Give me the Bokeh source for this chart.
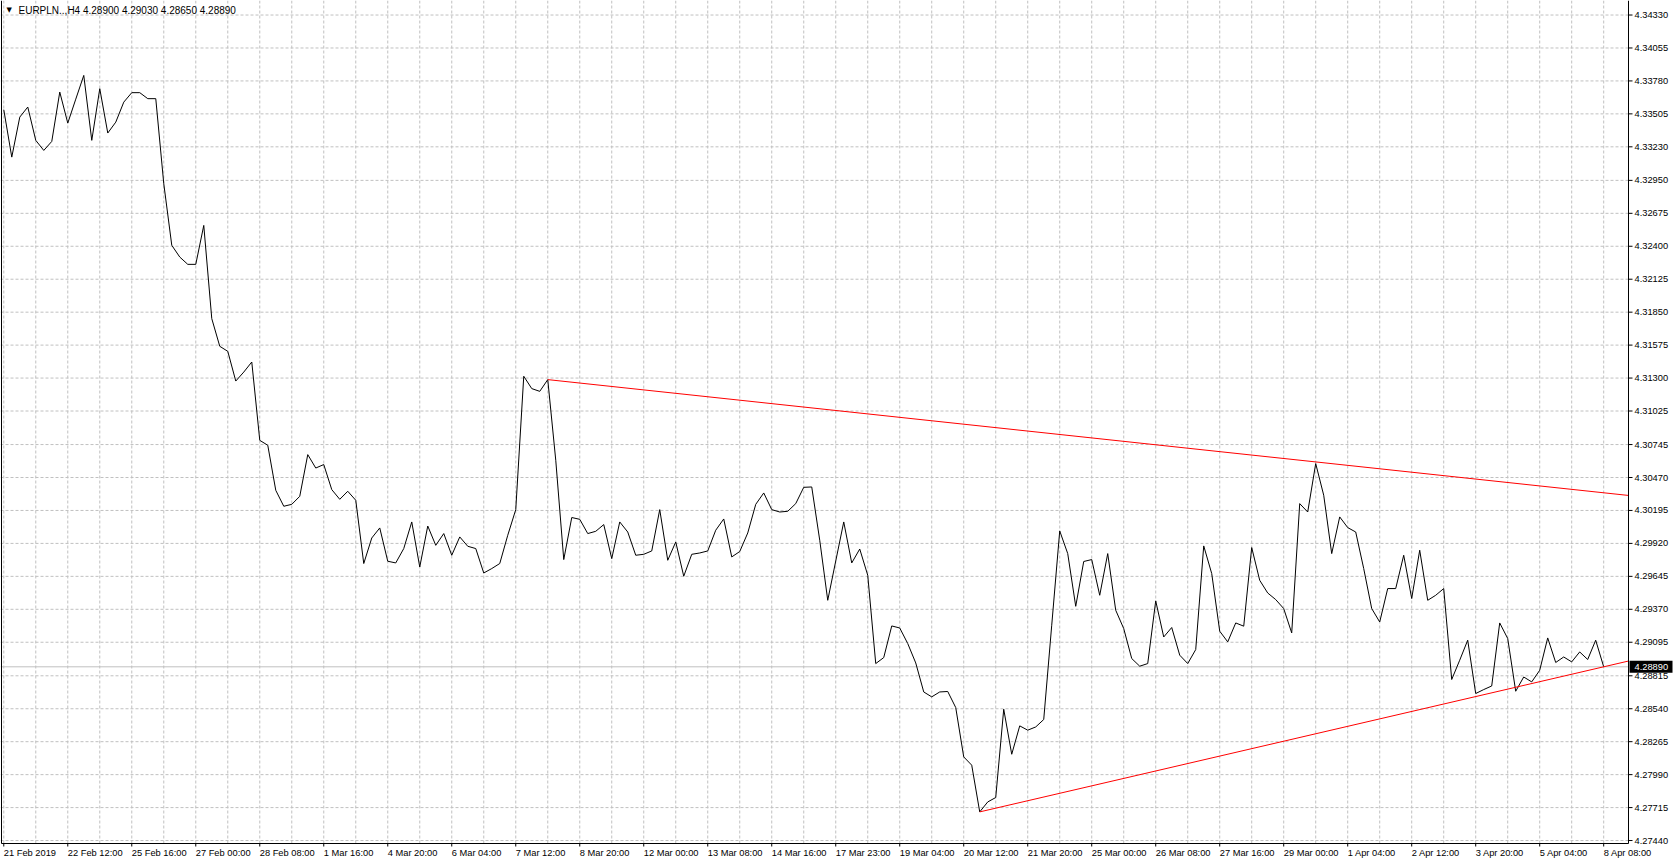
from bokeh.plotting import figure
from bokeh.models import Range1d
from bokeh.core.properties import value
from bokeh.embed import file_html
from bokeh.resources import INLINE

# ---------------- data ----------------
chart_title = "EURPLN..,H4  4.28900 4.29030 4.28650 4.28890"

close = [
    4.33540, 4.33144, 4.33478, 4.33562, 4.33284, 4.33200, 4.33275, 4.33687, 4.33428, 4.33628,
    4.33826, 4.33284, 4.33715, 4.33345, 4.33436, 4.33603, 4.33682, 4.33682, 4.33632, 4.33632,
    4.32922, 4.32408, 4.32310, 4.32249, 4.32249, 4.32574, 4.31796, 4.31565, 4.31523, 4.31275,
    4.31350, 4.31434, 4.30780, 4.30739, 4.30363, 4.30230, 4.30246, 4.30313, 4.30661, 4.30549,
    4.30578, 4.30369, 4.30288, 4.30355, 4.30280, 4.29752, 4.29965, 4.30049, 4.29771, 4.29757,
    4.29877, 4.30099, 4.29723, 4.30065, 4.29904, 4.30002, 4.29821, 4.29974, 4.29896, 4.29877,
    4.29673, 4.29710, 4.29752, 4.29988, 4.30202, 4.31315, 4.31212, 4.31189, 4.31287, 4.30614,
    4.29785, 4.30136, 4.30121, 4.30002, 4.30021, 4.30077, 4.29793, 4.30099, 4.30015, 4.29821,
    4.29829, 4.29857, 4.30202, 4.29779, 4.29932, 4.29646, 4.29829, 4.29840, 4.29857, 4.30030,
    4.30124, 4.29807, 4.29852, 4.30007, 4.30246, 4.30341, 4.30202, 4.30182, 4.30188, 4.30252,
    4.30388, 4.30391, 4.29946, 4.29445, 4.29773, 4.30099, 4.29757, 4.29873, 4.29654, 4.28917,
    4.28967, 4.29231, 4.29214, 4.29084, 4.28922, 4.28680, 4.28639, 4.28680, 4.28684, 4.28550,
    4.28138, 4.28069, 4.27679, 4.27762, 4.27799, 4.28536, 4.28160, 4.28397, 4.28361, 4.28388,
    4.28450, 4.29237, 4.30024, 4.29835, 4.29395, 4.29769, 4.29785, 4.29487, 4.29835, 4.29362,
    4.29209, 4.28959, 4.28895, 4.28917, 4.29440, 4.29139, 4.29218, 4.28987, 4.28917, 4.29034,
    4.29899, 4.29668, 4.29187, 4.29098, 4.29256, 4.29229, 4.29885, 4.29612, 4.29506, 4.29451,
    4.29376, 4.29173, 4.30252, 4.30182, 4.30586, 4.30322, 4.29835, 4.30141, 4.30052, 4.30015,
    4.29710, 4.29376, 4.29264, 4.29543, 4.29543, 4.29821, 4.29460, 4.29863, 4.29445, 4.29487,
    4.29543, 4.28784, 4.28945, 4.29112, 4.28667, 4.28700, 4.28730, 4.29256, 4.29126, 4.28686,
    4.28805, 4.28764, 4.28861, 4.29131, 4.28926, 4.28972, 4.28931, 4.29014, 4.28951, 4.29112,
    4.28890,
]

x_tick_labels = [
    "21 Feb 2019", "22 Feb 12:00", "25 Feb 16:00", "27 Feb 00:00", "28 Feb 08:00",
    "1 Mar 16:00", "4 Mar 20:00", "6 Mar 04:00", "7 Mar 12:00", "8 Mar 20:00",
    "12 Mar 00:00", "13 Mar 08:00", "14 Mar 16:00", "17 Mar 23:00", "19 Mar 04:00",
    "20 Mar 12:00", "21 Mar 20:00", "25 Mar 00:00", "26 Mar 08:00", "27 Mar 16:00",
    "29 Mar 00:00", "1 Apr 04:00", "2 Apr 12:00", "3 Apr 20:00", "5 Apr 04:00",
    "8 Apr 08:00",
]
bars_per_label = 8

y_tick_labels = [
    "4.34330", "4.34055", "4.33780", "4.33505", "4.33230", "4.32950", "4.32675",
    "4.32400", "4.32125", "4.31850", "4.31575", "4.31300", "4.31025", "4.30745",
    "4.30470", "4.30195", "4.29920", "4.29645", "4.29370", "4.29095", "4.28815",
    "4.28540", "4.28265", "4.27990", "4.27715", "4.27440",
]

# trend lines (anchor bar index, anchor price)
upper_trend_bars = [68, 164]
upper_trend_prices = [4.31287, 4.30600]
lower_trend_bars = [122, 200]
lower_trend_prices = [4.27679, 4.28890]

last_price = 4.28890
last_price_text = "4.28890"

# ---------------- layout constants ----------------
FONT = value("Liberation Sans")
FSIZE = "9.3px"
W, H = 1674, 863          # canvas
PW, PH = 1628, 843        # chart area (left/top aligned)
AXIS_W, AXIS_H = W - PW, H - PH
GRID = "#C0C0C0"

bars = list(range(len(close)))
y_ticks = [float(s) for s in y_tick_labels]
y_step = (y_ticks[0] - y_ticks[-1]) / (len(y_ticks) - 1)
y_lo = y_ticks[-1] - 0.09 * y_step
y_hi = y_ticks[0] + 0.44 * y_step
x_lo = -0.41
x_hi = len(close) - 1 + 3.1

bpp = (x_hi - x_lo) / PW      # bars per pixel
ppp = (y_hi - y_lo) / PH      # price per pixel
x_end = x_hi + AXIS_W * bpp
y_start = y_lo - AXIS_H * ppp

p = figure(
    width=W, height=H, title=None,
    output_backend="svg", toolbar_location=None,
    x_axis_type=None, y_axis_type=None,
    x_range=Range1d(x_lo, x_end), y_range=Range1d(y_start, y_hi),
    min_border=0,
)
p.background_fill_color = "white"
p.border_fill_color = "white"
p.outline_line_color = None

# ---------------- grid ----------------
x_label_bars = [i * bars_per_label for i in range(len(x_tick_labels))]
x_grid_bars = [i * bars_per_label // 2 for i in range(2 * len(x_tick_labels) - 1)]
p.segment(x0=[x_lo] * len(y_ticks), x1=[x_hi] * len(y_ticks), y0=y_ticks, y1=y_ticks,
          line_color=GRID, line_width=1, line_dash="3 2")
p.segment(x0=x_grid_bars, x1=x_grid_bars, y0=[y_lo] * len(x_grid_bars),
          y1=[y_hi] * len(x_grid_bars), line_color=GRID, line_width=1, line_dash="3 2")

# current price line
p.segment(x0=[x_lo], x1=[x_hi], y0=[last_price], y1=[last_price],
          line_color="#C0C0C0", line_width=1)

# ---------------- price line ----------------
p.line(bars, close, line_color="black", line_width=1)

# trend rays extended to the price scale
def ray(bx, py):
    slope = (py[1] - py[0]) / (bx[1] - bx[0])
    return [bx[0], x_hi], [py[0], py[0] + slope * (x_hi - bx[0])]

ux, uy = ray(upper_trend_bars, upper_trend_prices)
lx, ly = ray(lower_trend_bars, lower_trend_prices)
p.line(ux, uy, line_color="#FF0000", line_width=1)
p.line(lx, ly, line_color="#FF0000", line_width=1)

# ---------------- axes ----------------
border_x = x_lo + 1.0 * bpp
p.segment(x0=[x_hi, border_x, border_x], x1=[x_hi, x_hi, border_x],
          y0=[y_lo, y_lo, y_lo], y1=[y_hi, y_lo, y_hi],
          line_color="black", line_width=1)
# price-scale ticks and labels
p.segment(x0=[x_hi] * len(y_ticks), x1=[x_hi + 4 * bpp] * len(y_ticks),
          y0=y_ticks, y1=y_ticks, line_color="black", line_width=1)
p.text(x=[x_hi] * len(y_ticks), y=y_ticks, text=y_tick_labels, x_offset=6,
       text_align="left", text_baseline="middle", text_font=FONT,
       text_font_size=FSIZE, text_color="black")
# time-scale ticks and labels
p.segment(x0=x_label_bars, x1=x_label_bars, y0=[y_lo] * len(x_label_bars),
          y1=[y_lo - 3 * ppp] * len(x_label_bars), line_color="black", line_width=1)
p.text(x=x_label_bars, y=[y_lo] * len(x_label_bars), text=x_tick_labels,
       x_offset=0, y_offset=4, text_align="left", text_baseline="top",
       text_font=FONT, text_font_size=FSIZE, text_color="black")

# last price marker on the price scale
p.quad(left=[x_hi + 1 * bpp], right=[x_end - 2 * bpp],
       top=[last_price + 6 * ppp], bottom=[last_price - 6 * ppp],
       fill_color="black", line_color=None)
p.text(x=[x_hi], y=[last_price], text=[last_price_text], x_offset=6,
       text_align="left", text_baseline="middle", text_font=FONT,
       text_font_size=FSIZE, text_color="white")

# ---------------- title ----------------
p.text(x=[x_lo], y=[y_hi], text=["\u25BC"], x_offset=6, y_offset=5,
       text_align="left", text_baseline="top", text_font=value("DejaVu Sans"),
       text_font_size="7px", text_color="black")
p.text(x=[x_lo], y=[y_hi], text=[chart_title], x_offset=18, y_offset=4,
       text_align="left", text_baseline="top", text_font=FONT,
       text_font_size="10px", text_color="black")

open("out.html", "w").write(file_html(p, INLINE))
